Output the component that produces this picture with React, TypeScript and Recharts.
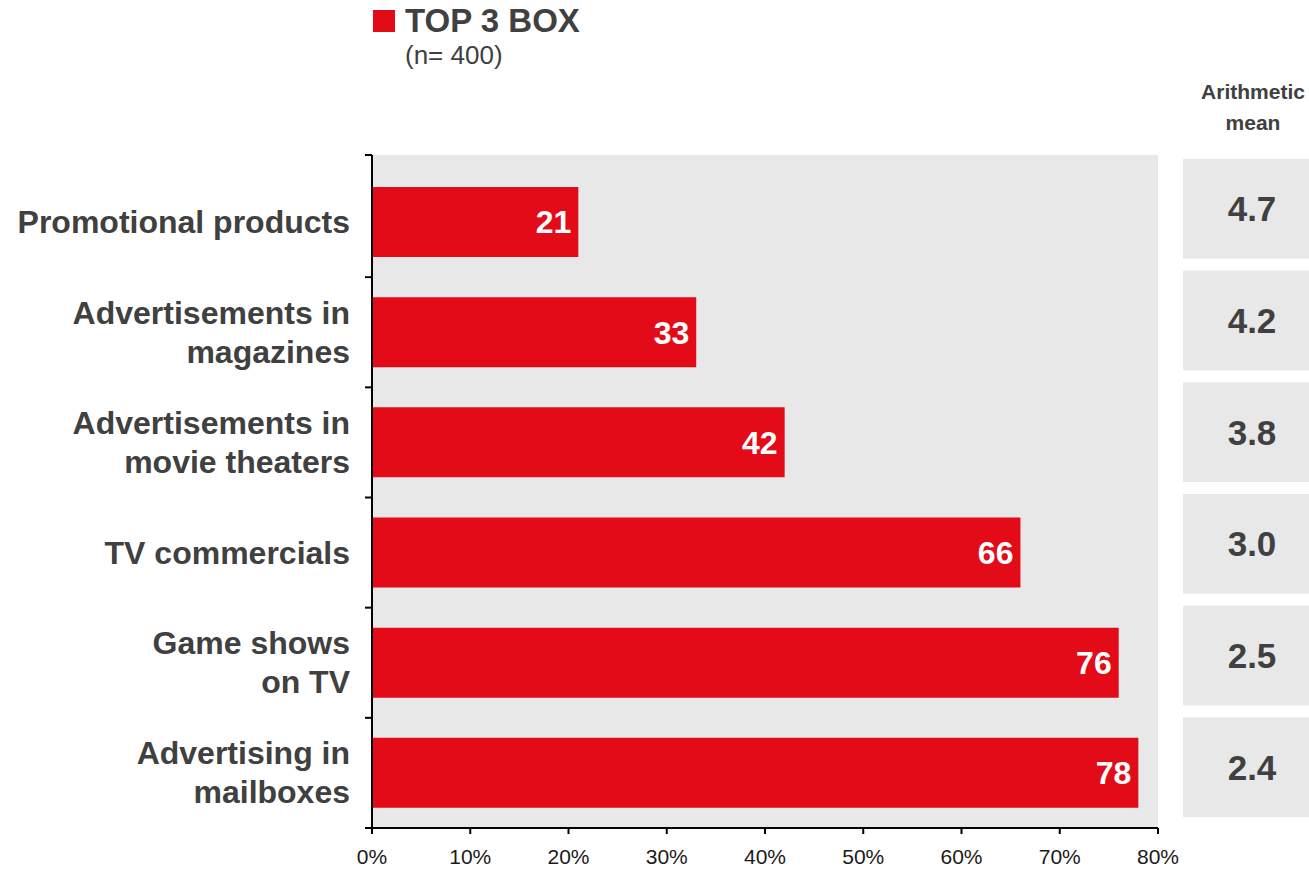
import { BarChart, Bar, XAxis, YAxis, CartesianGrid, LabelList } from 'recharts';

const categories = [
  'Promotional products',
  'Advertisements in\nmagazines',
  'Advertisements in\nmovie theaters',
  'TV commercials',
  'Game shows\non TV',
  'Advertising in\nmailboxes',
];
const top3Box = [21, 33, 42, 66, 76, 78];
const arithmeticMean = [4.7, 4.2, 3.8, 3.0, 2.5, 2.4];
const xTicks = [0, 10, 20, 30, 40, 50, 60, 70, 80];

const data = categories.map((name, i) => ({ name, top3: top3Box[i], mean: arithmeticMean[i] }));

const FONT = '"Liberation Sans", Arial, Helvetica, sans-serif';
const TEXT = '#404040';
const RED = '#e20b17';
const GREY = '#e8e8e8';
const PLOT_LEFT = 372;
const PAD_TOP = 12;

// category label on the left plus the small boundary ticks on the axis
function CategoryTick(props: any) {
  const { y, payload, index } = props;
  const half = payload.offset ?? 55;
  const lines = String(payload.value).split('\n');
  const lineH = 39;
  const startY = y - ((lines.length - 1) * lineH) / 2;
  return (
    <g>
      <text
        x={PLOT_LEFT - 22}
        y={startY}
        textAnchor="end"
        dominantBaseline="central"
        fontFamily={FONT}
        fontSize={32}
        fontWeight="bold"
        fill={TEXT}
      >
        {lines.map((l, i) => (
          <tspan key={i} x={PLOT_LEFT - 22} dy={i === 0 ? 0 : lineH}>
            {l}
          </tspan>
        ))}
      </text>
      {index === 0 && (
        <line x1={PLOT_LEFT - 7} x2={PLOT_LEFT} y1={y - half - PAD_TOP} y2={y - half - PAD_TOP} stroke="#000" strokeWidth={2} />
      )}
      <line x1={PLOT_LEFT - 7} x2={PLOT_LEFT} y1={y + half} y2={y + half} stroke="#000" strokeWidth={2} />
    </g>
  );
}

// grey box with the arithmetic mean on the right side
function MeanTick(props: any) {
  const { x, y, payload } = props;
  const row = data.find((d) => d.name === payload.value);
  const half = payload.offset ?? 56;
  const h = 2 * half - 12;
  const bx = x + 17;
  const cy = y - 2;
  return (
    <g>
      <rect x={bx} y={cy - h / 2} width={140} height={h} fill={GREY} />
      <text
        x={bx + 69}
        y={cy}
        textAnchor="middle"
        dominantBaseline="central"
        fontFamily={FONT}
        fontSize={35}
        fontWeight="bold"
        fill={TEXT}
      >
        {row ? row.mean.toFixed(1) : ''}
      </text>
    </g>
  );
}

export default function App() {
  return (
    <div style={{ position: 'absolute', left: 0, top: 0, width: 1309, height: 869, background: '#fff', fontFamily: FONT }}>
      {/* legend / title */}
      <div style={{ position: 'absolute', left: 373, top: 10, width: 22, height: 22, background: RED }} />
      <div style={{ position: 'absolute', left: 405, top: 1, fontSize: 33, fontWeight: 'bold', color: TEXT, lineHeight: '40px' }}>
        TOP 3 BOX
      </div>
      <div style={{ position: 'absolute', left: 405, top: 40, fontSize: 26, color: TEXT, lineHeight: '30px' }}>(n= 400)</div>
      <div
        style={{
          position: 'absolute',
          left: 1183,
          width: 140,
          top: 76,
          fontSize: 21,
          fontWeight: 'bold',
          color: TEXT,
          lineHeight: '31px',
          textAlign: 'center',
        }}
      >
        Arithmetic
        <br />
        mean
      </div>

      <BarChart
        width={1309}
        height={869}
        data={data}
        layout="vertical"
        margin={{ top: 155, right: 0, bottom: 0, left: 0 }}
        barSize={70}
      >
        <CartesianGrid horizontal={false} vertical={false} fill={GREY} />
        <XAxis
          type="number"
          domain={[0, 80]}
          ticks={xTicks}
          tickFormatter={(v) => `${v}%`}
          height={41}
          axisLine={{ stroke: '#000', strokeWidth: 2 }}
          tickLine={{ stroke: '#000', strokeWidth: 2 }}
          tickSize={6}
          tickMargin={15}
          tick={{ fontFamily: FONT, fontSize: 21, fill: '#1a1a1a' }}
          allowDataOverflow
        />
        <YAxis
          type="category"
          dataKey="name"
          width={PLOT_LEFT}
          padding={{ top: PAD_TOP, bottom: 0 }}
          axisLine={{ stroke: '#000', strokeWidth: 2 }}
          tickLine={false}
          tick={<CategoryTick />}
          interval={0}
        />
        <YAxis
          yAxisId="mean"
          orientation="right"
          type="category"
          dataKey="name"
          width={151}
          padding={{ top: 0, bottom: 3 }}
          axisLine={false}
          tickLine={false}
          tick={<MeanTick />}
          interval={0}
        />
        <Bar dataKey="top3" fill={RED} isAnimationActive={false}>
          <LabelList
            dataKey="top3"
            position="insideRight"
            offset={7}
            fill="#fff"
            fontFamily={FONT}
            fontSize={32}
            fontWeight="bold"
          />
        </Bar>
      </BarChart>
    </div>
  );
}
